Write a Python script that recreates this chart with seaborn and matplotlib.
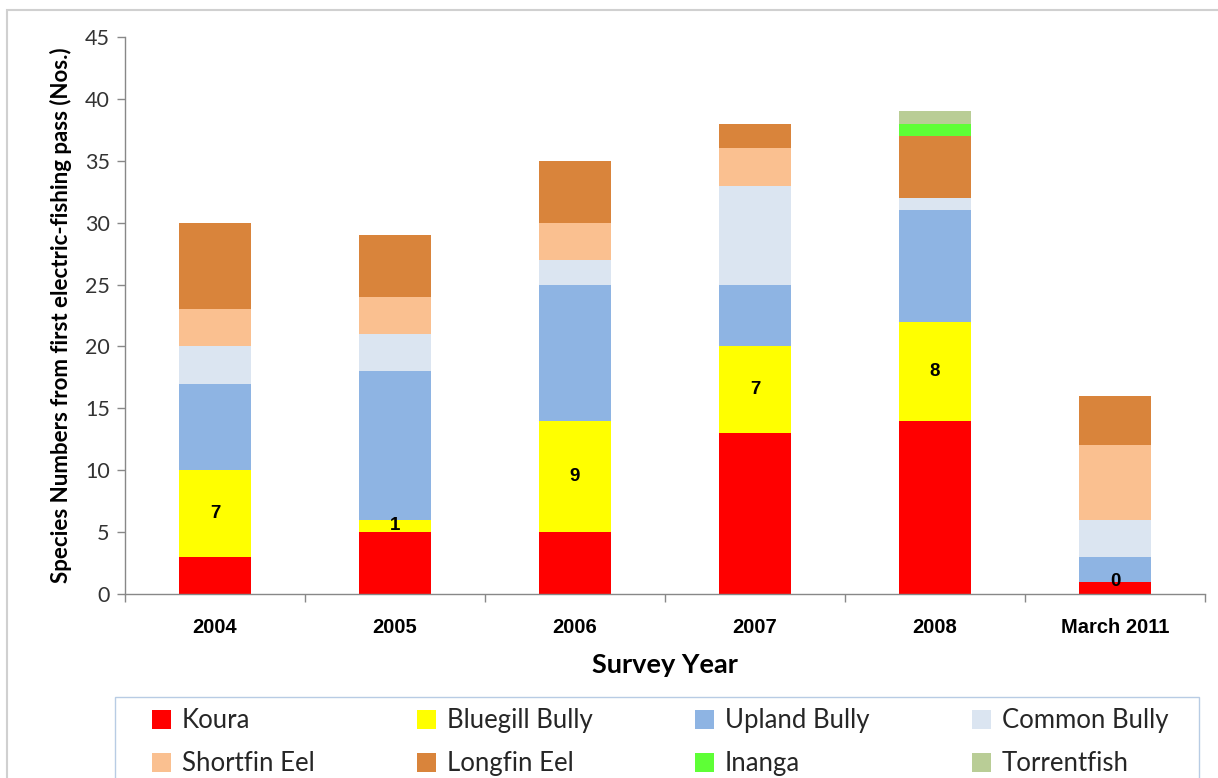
import matplotlib
matplotlib.use("Agg")
import matplotlib.pyplot as plt
import seaborn as sns
import numpy as np
from matplotlib.patches import Rectangle

years = ["2004", "2005", "2006", "2007", "2008", "March 2011"]
koura = [3, 5, 5, 13, 14, 1]
bluegill = [7, 1, 9, 7, 8, 0]
upland = [7, 12, 11, 5, 9, 2]
common = [3, 3, 2, 8, 1, 3]
shortfin = [3, 3, 3, 3, 0, 6]
longfin = [7, 5, 5, 2, 5, 4]
inanga = [0, 0, 0, 0, 1, 0]
torrent = [0, 0, 0, 0, 1, 0]

species = ["Koura", "Bluegill Bully", "Upland Bully", "Common Bully",
           "Shortfin Eel", "Longfin Eel", "Inanga", "Torrentfish"]
series = [koura, bluegill, upland, common, shortfin, longfin, inanga, torrent]
colors = ["#FF0000", "#FFFF00", "#8EB4E3", "#DBE5F1",
          "#FAC090", "#D9843B", "#5EFF36", "#B9CD96"]

sns.set_theme(style="white")
plt.rcParams['font.family'] = ['Lato', 'DejaVu Sans']

fig = plt.figure(figsize=(12.18, 7.78), dpi=100)
ax = fig.add_axes([125/1218, 1-594/778, 1080/1218, (594-37)/778])

bottom = np.zeros(len(years))
for name, vals, c in zip(species, series, colors):
    sns.barplot(x=years, y=vals, bottom=bottom, color=c, width=0.4,
                ax=ax, label=name, saturation=1, linewidth=0)
    bottom = bottom + np.array(vals)

# labels for bluegill
for i, v in enumerate(bluegill):
    ax.text(i, koura[i] + v/2, str(v), ha="center", va="center",
            fontsize=13.5, fontweight="bold", color="black",
            family=['Liberation Sans', 'DejaVu Sans'])

ax.set_ylim(0, 45)
ax.set_xlim(-0.5, 5.5)
ax.set_yticks(range(0, 46, 5))
ax.tick_params(axis="y", labelsize=15.5, length=6, width=1, direction="out",
               left=True, pad=5, color="#888888", labelcolor="#333333")
ax.set_xticks(range(len(years)))
ax.set_xticklabels(years, fontsize=14.5, fontweight="bold",
                   family=['Liberation Sans Narrow', 'Liberation Sans', 'DejaVu Sans'])
ax.tick_params(axis="x", length=0, pad=17, labelcolor="black")
ax.set_xticks(np.arange(-0.5, 6, 1), minor=True)
ax.tick_params(axis="x", which="minor", length=6, width=1, color="#888888",
               bottom=True, direction="out")

for s in ["top", "right"]:
    ax.spines[s].set_visible(False)
for s in ["left", "bottom"]:
    ax.spines[s].set_color("#888888")
    ax.spines[s].set_linewidth(1)

ax.set_xlabel("Survey Year", fontsize=19.5, fontweight="bold", labelpad=12,
              color="black")
ax.set_ylabel("Species Numbers from first electric-fishing pass (Nos.)",
              fontsize=16, fontweight="bold", labelpad=9, color="black")
if ax.legend_:
    ax.legend_.remove()

handles, labels = ax.get_legend_handles_labels()
order = [0, 4, 1, 5, 2, 6, 3, 7]
handles = [handles[i] for i in order]
labels = [labels[i] for i in order]
leg = fig.legend(handles, labels, loc="upper left",
                 bbox_to_anchor=(152/1218, 1-716/778, (1168-152)/1218, 0.01),
                 mode="expand", ncol=4, fontsize=18.5, frameon=False,
                 handlelength=0.75, handleheight=0.75, handletextpad=0.4,
                 borderpad=0.0, labelspacing=0.7, borderaxespad=0)

fig.patches.append(Rectangle((115/1218, -0.1), (1199-115)/1218, 1 - 697/778 + 0.1,
                             transform=fig.transFigure, fill=False,
                             edgecolor="#B8CCE4", linewidth=1, zorder=0))
fig.patches.append(Rectangle((7/1218, -0.1), 1.1, 1 - 10/778 + 0.1,
                             transform=fig.transFigure, fill=False,
                             edgecolor="#D0D0D0", linewidth=1.5, zorder=0))

fig.savefig("out.png", dpi=100)
